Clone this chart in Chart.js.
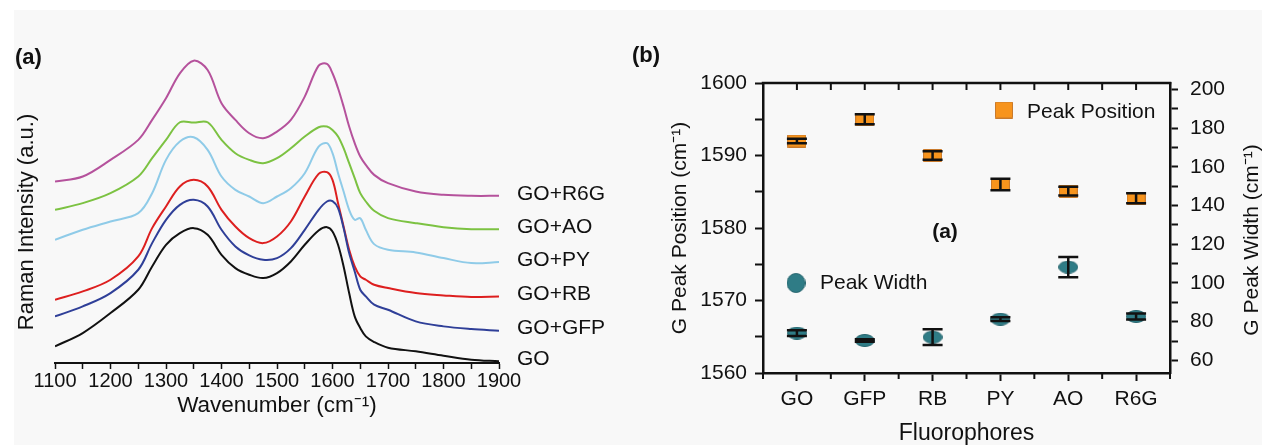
<!DOCTYPE html>
<html>
<head>
<meta charset="utf-8">
<script src="https://cdn.jsdelivr.net/npm/chart.js@4.4.0/dist/chart.umd.min.js"></script>
<style>
  html, body { margin: 0; padding: 0; background: #fff; }
  #wrap { position: relative; width: 1262px; height: 445px; overflow: hidden; }
  #bg { position: absolute; left: 14px; top: 10px; right: 0; bottom: 0; background: #f8f8f8; }
  #panelA { position: absolute; left: 0; top: 0; }
  #panelB { position: absolute; left: 615px; top: 0; }
</style>
</head>
<body>
<div id="wrap">
  <div id="bg"></div>
  <canvas id="panelA" width="615" height="445"></canvas>
  <canvas id="panelB" width="647" height="445"></canvas>
</div>
<script>
// ---- panel (a): Raman spectra, stacked with offsets (a.u.) ----
const wavenumbers = [1100, 1150, 1200, 1250, 1275, 1300, 1325, 1350, 1375, 1400, 1425, 1450, 1475, 1500, 1525,
  1550, 1575, 1590, 1600, 1610, 1620, 1630, 1640, 1650, 1660, 1675, 1700, 1750, 1800, 1850, 1900];

const spectrumGO   = [5.0, 9.0, 15.0, 22.0, 29.0, 35.5, 39.0, 40.5, 38.5, 32.5, 28.5, 26.5, 25.5, 27.0, 30.5,
  35.5, 39.8, 40.8, 39.5, 35.5, 29.0, 21.0, 14.0, 10.5, 8.0, 6.3, 4.6, 3.5, 2.2, 1.0, 0.5];
const spectrumGFP  = [14.0, 17.0, 21.0, 28.0, 36.0, 43.0, 47.5, 49.0, 47.0, 40.0, 35.0, 32.3, 31.0, 31.5, 34.5,
  40.0, 46.0, 48.5, 48.6, 46.5, 40.5, 33.0, 27.5, 22.0, 20.0, 17.5, 16.0, 12.5, 11.0, 10.2, 9.7];
const spectrumRB   = [19.0, 21.5, 25.0, 32.0, 40.5, 47.0, 53.0, 55.0, 53.0, 46.0, 41.0, 37.5, 36.0, 38.0, 42.5,
  50.0, 56.8, 57.3, 55.0, 48.0, 41.0, 34.0, 29.0, 26.0, 25.0, 23.5, 22.5, 21.0, 20.3, 19.8, 20.0];
const spectrumPY   = [37.0, 40.0, 42.5, 45.0, 51.0, 61.0, 66.5, 67.8, 64.0, 56.0, 52.0, 50.0, 48.0, 50.0, 52.5,
  57.0, 65.0, 66.0, 63.0, 57.0, 51.5, 46.0, 43.0, 43.5, 40.0, 35.7, 34.0, 33.2, 31.5, 30.0, 30.3];
const spectrumAO   = [46.0, 48.0, 51.0, 56.0, 61.5, 67.0, 72.3, 72.2, 72.3, 67.0, 63.0, 61.0, 60.0, 61.5, 64.5,
  68.0, 70.8, 71.0, 70.0, 68.0, 64.5, 60.0, 55.5, 51.0, 48.5, 45.7, 43.5, 42.0, 40.8, 40.2, 40.2];
const spectrumR6G  = [54.5, 56.0, 61.0, 67.0, 73.0, 79.5, 87.0, 90.8, 88.0, 78.0, 73.0, 69.0, 67.5, 69.5, 73.0,
  80.0, 89.3, 89.8, 87.0, 82.5, 77.0, 71.0, 66.0, 62.0, 59.5, 56.5, 54.0, 51.5, 50.5, 50.2, 50.2];

const spectraLabels = ['GO', 'GO+GFP', 'GO+RB', 'GO+PY', 'GO+AO', 'GO+R6G'];
const spectraValues = [spectrumGO, spectrumGFP, spectrumRB, spectrumPY, spectrumAO, spectrumR6G];
const spectraColors = ['#111111', '#2f3f98', '#dd1f1f', '#8fcbe8', '#7cc242', '#b5529c'];

// ---- panel (b): G peak position / width per fluorophore ----
const fluorophores = ['GO', 'GFP', 'RB', 'PY', 'AO', 'R6G'];
const peakPosition = [1592.0, 1595.0, 1590.0, 1586.0, 1585.1, 1584.1];
const peakPositionErr = [0.3, 0.7, 0.6, 0.8, 0.6, 0.7];
const peakWidth = [74.1, 70.3, 72.0, 81.3, 108.2, 82.7];
const peakWidthErr = [1.5, 0.6, 4.1, 1.0, 5.2, 1.5];

const FONT = "'Liberation Sans', Arial, sans-serif";
const INK = '#111';
Chart.defaults.font.family = FONT;
Chart.defaults.color = INK;

function makeMarker(shape, w, h, fill, stroke) {
  const c = document.createElement('canvas');
  c.width = w; c.height = h;
  const g = c.getContext('2d');
  g.fillStyle = fill;
  g.strokeStyle = stroke;
  g.lineWidth = 1;
  g.beginPath();
  if (shape === 'ellipse') g.ellipse(w / 2, h / 2, w / 2 - 0.5, h / 2 - 0.5, 0, 0, Math.PI * 2);
  else g.rect(0.5, 0.5, w - 1, h - 1);
  g.fill();
  g.stroke();
  return c;
}

const ORANGE = '#f7941d', ORANGE_EDGE = '#c97a2c';
const TEAL = '#2f7c86', TEAL_EDGE = '#25646d';
const squareMarker = makeMarker('rect', 19, 13, ORANGE, ORANGE_EDGE);
const ellipseMarker = makeMarker('ellipse', 20, 13, TEAL, TEAL_EDGE);
const squareLegend = makeMarker('rect', 18, 17, ORANGE, ORANGE_EDGE);
const circleLegend = makeMarker('ellipse', 19, 20, TEAL, TEAL_EDGE);

function drawText(ctx, text, x, y, font, align, rotate) {
  ctx.save();
  ctx.font = font;
  ctx.fillStyle = INK;
  ctx.textAlign = align || 'left';
  ctx.textBaseline = 'middle';
  ctx.translate(x, y);
  if (rotate) ctx.rotate(rotate);
  ctx.fillText(text, 0, 0);
  ctx.restore();
}

// --- panel (a) ---
const spectraLabelPlugin = {
  id: 'spectraLabels',
  afterDraw(chart) {
    const ctx = chart.ctx;
    const yScale = chart.scales.y;
    chart.data.datasets.forEach(ds => {
      const last = ds.data[ds.data.length - 1].y;
      drawText(ctx, ds.label, 517, yScale.getPixelForValue(last) - 2, '21px ' + FONT);
    });
    drawText(ctx, '(a)', 15, 58, 'bold 22px ' + FONT);
    drawText(ctx, 'Raman Intensity (a.u.)', 27, 222, '22px ' + FONT, 'center', -Math.PI / 2);
  }
};

new Chart(document.getElementById('panelA'), {
  type: 'line',
  data: {
    datasets: spectraValues.map((vals, i) => ({
      label: spectraLabels[i],
      data: vals.map((v, j) => ({ x: wavenumbers[j], y: v })),
      borderColor: spectraColors[i],
      borderWidth: 2,
      pointRadius: 0,
      tension: 0.35,
      fill: false
    }))
  },
  options: {
    responsive: false,
    animation: false,
    events: [],
    layout: { padding: { left: 55, right: 116, top: 30, bottom: 0 } },
    plugins: { legend: { display: false }, tooltip: { enabled: false } },
    scales: {
      x: {
        type: 'linear',
        min: 1100,
        max: 1900,
        afterFit: s => { s.height = 82; },
        border: { color: INK, width: 2 },
        grid: { drawOnChartArea: false, tickLength: 6, tickColor: INK, tickWidth: 1.5 },
        ticks: {
          stepSize: 50,
          autoSkip: false,
          maxRotation: 0,
          padding: 0,
          font: { size: 20 },
          callback: v => (v % 100 === 0 ? v : '')
        },
        title: { display: true, text: 'Wavenumber (cm⁻¹)', font: { size: 22.5 }, padding: { top: 0, bottom: 26 } }
      },
      y: { display: false, min: 0, max: 100 }
    }
  },
  plugins: [spectraLabelPlugin]
});

// --- panel (b) ---
const errorBarPlugin = {
  id: 'errorBars',
  afterDatasetsDraw(chart) {
    const ctx = chart.ctx;
    chart.data.datasets.forEach((ds, di) => {
      const meta = chart.getDatasetMeta(di);
      const ys = chart.scales[ds.yAxisID];
      ctx.save();
      ctx.strokeStyle = INK;
      ctx.lineWidth = 2.5;
      meta.data.forEach((pt, i) => {
        const top = ys.getPixelForValue(ds.data[i] + ds.errors[i]);
        const bot = ys.getPixelForValue(ds.data[i] - ds.errors[i]);
        ctx.beginPath();
        ctx.moveTo(pt.x, top); ctx.lineTo(pt.x, bot);
        ctx.moveTo(pt.x - 10, top); ctx.lineTo(pt.x + 10, top);
        ctx.moveTo(pt.x - 10, bot); ctx.lineTo(pt.x + 10, bot);
        ctx.stroke();
      });
      ctx.restore();
    });
  }
};

const frameAndLegendPlugin = {
  id: 'frameAndLegend',
  afterDraw(chart) {
    const ctx = chart.ctx;
    const area = chart.chartArea;
    const xs = chart.scales.x;
    ctx.save();
    ctx.strokeStyle = INK;
    ctx.lineWidth = 2.5;
    ctx.beginPath();
    ctx.moveTo(area.left - 1.25, area.top);
    ctx.lineTo(area.right + 1.25, area.top);
    ctx.stroke();
    ctx.lineWidth = 2;
    ctx.beginPath();
    for (let i = 0; i < fluorophores.length; i++) {
      const c = xs.getPixelForValue(i);
      ctx.moveTo(c, area.top); ctx.lineTo(c, area.top + 7);
    }
    for (let i = 0; i <= fluorophores.length; i++) {
      const b = xs.getPixelForValue(i - 0.5);
      ctx.moveTo(b, area.top); ctx.lineTo(b, area.top + 7);
      ctx.moveTo(b, area.bottom); ctx.lineTo(b, area.bottom + 6);
    }
    ctx.stroke();
    ctx.restore();

    const ds = chart.data.datasets;
    ctx.drawImage(squareLegend, 389 - 9, 110 - 8.5);
    drawText(ctx, ds[0].label, 412, 112, '21px ' + FONT);
    ctx.drawImage(circleLegend, 181 - 9.5, 283 - 10);
    drawText(ctx, ds[1].label, 205, 283, '21px ' + FONT);
    drawText(ctx, '(a)', 330, 232, 'bold 21px ' + FONT, 'center');
    drawText(ctx, '(b)', 17, 56, 'bold 22px ' + FONT);
    drawText(ctx, 'G Peak Width (cm⁻¹)', 637, 240, '21px ' + FONT, 'center', -Math.PI / 2);
  }
};

new Chart(document.getElementById('panelB'), {
  type: 'line',
  data: {
    labels: fluorophores,
    datasets: [
      {
        label: 'Peak Position',
        data: peakPosition,
        errors: peakPositionErr,
        yAxisID: 'y',
        showLine: false,
        pointStyle: squareMarker
      },
      {
        label: 'Peak Width',
        data: peakWidth,
        errors: peakWidthErr,
        yAxisID: 'y1',
        showLine: false,
        pointStyle: ellipseMarker
      }
    ]
  },
  options: {
    responsive: false,
    animation: false,
    events: [],
    layout: { padding: { left: 0, right: 0, top: 83, bottom: 0 } },
    plugins: { legend: { display: false }, tooltip: { enabled: false } },
    scales: {
      x: {
        type: 'category',
        offset: true,
        afterFit: s => { s.height = 72; },
        border: { color: INK, width: 2.5 },
        grid: { offset: false, drawOnChartArea: false, tickLength: 8, tickColor: INK, tickWidth: 2 },
        ticks: { font: { size: 21 }, padding: 6, maxRotation: 0 },
        title: { display: true, text: 'Fluorophores', font: { size: 23, lineHeight: 1 }, padding: { top: 0, bottom: 0 } }
      },
      y: {
        position: 'left',
        min: 1560,
        max: 1600,
        afterFit: s => { s.width = 148; },
        border: { color: INK, width: 2.5 },
        grid: { drawOnChartArea: false, tickLength: 8, tickColor: INK, tickWidth: 2 },
        ticks: {
          stepSize: 5,
          autoSkip: false,
          padding: 8,
          font: { size: 21 },
          callback: v => (v % 10 === 0 ? v : '')
        },
        title: { display: true, text: 'G Peak Position (cm⁻¹)', font: { size: 21 }, padding: { top: 53, bottom: 0 } }
      },
      y1: {
        position: 'right',
        min: 53.5,
        max: 203.3,
        afterFit: s => { s.width = 92; },
        border: { color: INK, width: 2.5 },
        grid: { drawOnChartArea: false, tickLength: 8, tickColor: INK, tickWidth: 2 },
        ticks: {
          stepSize: 10,
          includeBounds: false,
          autoSkip: false,
          padding: 12,
          font: { size: 21 },
          callback: v => (v % 20 === 0 ? v : '')
        }
      }
    }
  },
  plugins: [errorBarPlugin, frameAndLegendPlugin]
});
</script>
</body>
</html>
